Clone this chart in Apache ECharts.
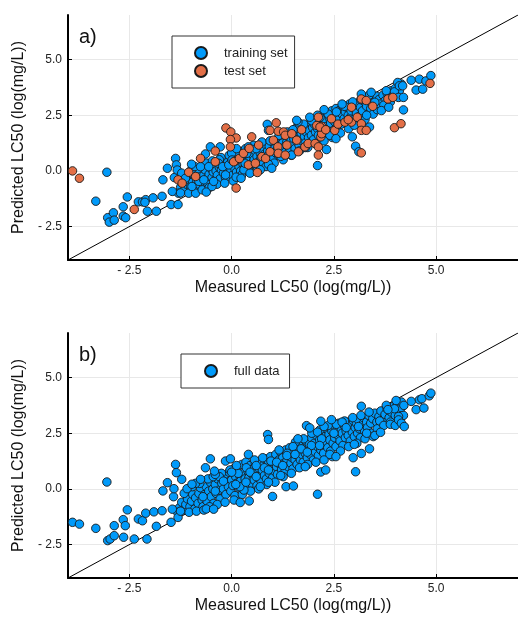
<!DOCTYPE html>
<html>
<head>
<meta charset="utf-8">
<script src="https://cdn.jsdelivr.net/npm/echarts@6/dist/echarts.min.js"></script>
<style>html,body{margin:0;padding:0;background:#fff}#c{width:518px;height:618px}</style>
</head>
<body>
<div id="c"></div>
<script>
// ---- data (measured, predicted) ----
const axisRange = [-4, 7];
const tickValues = [-2.5, 0, 2.5, 5];
const identityLine = [[-4, -4], [7, 7]];

const trainingCore = [[-1.25,-0.75],[-1.2,-0.55],[-1.15,-0.85],[-1.1,-0.6],[-1.05,-0.4],[-1.0,-0.7],[-0.95,-0.5],[-0.92,-0.2],[-0.9,-0.8],[-0.85,-0.45],[-0.8,-0.6],[-0.78,-0.3],[-0.75,-0.1],[-0.7,-0.5],[-0.68,-0.2],[-0.65,0.05],[-0.6,-0.35],[-0.58,-0.6],[-0.55,-0.15],[-0.5,0.1],[-0.48,-0.3],[-0.45,-0.05],[-0.42,0.3],[-0.4,-0.45],[-0.38,0.0],[-0.35,-0.2],[-0.3,0.15],[-0.28,-0.35],[-0.25,0.05],[-0.22,0.35],[-0.2,-0.1],[-0.18,0.2],[-0.15,-0.3],[-0.12,0.1],[-0.1,0.4],[-0.08,-0.05],[-0.05,0.25],[-0.02,0.0],[0.0,0.5],[0.02,-0.2],[0.05,0.3],[0.08,0.1],[0.1,0.65],[0.12,-0.05],[0.15,0.4],[0.18,0.2],[0.2,0.75],[0.22,0.0],[0.25,0.5],[0.28,0.3],[0.3,0.9],[0.32,0.15],[0.35,0.6],[0.38,0.4],[0.4,0.8],[0.42,0.2],[0.45,0.55],[0.48,1.0],[0.5,0.35],[0.52,0.7],[0.55,0.5],[0.58,0.9],[0.6,0.25],[0.62,0.65],[0.65,1.1],[0.68,0.45],[0.7,0.8],[0.72,0.6],[0.75,1.0],[0.78,0.35],[0.8,0.75],[0.82,1.2],[0.85,0.55],[0.88,0.9],[0.9,0.7],[0.92,1.1],[0.95,0.45],[0.98,0.85],[1.0,1.3],[1.02,0.6],[1.05,1.0],[1.08,0.8],[1.1,1.4],[1.12,0.95],[1.15,0.7],[1.18,1.15],[1.2,1.5],[1.22,0.9],[1.25,1.25],[1.28,1.05],[1.3,1.6],[1.32,0.85],[1.35,1.3],[1.38,1.1],[1.4,1.5],[1.42,1.0],[1.45,1.35],[1.48,1.7],[1.5,1.2],[1.52,1.45],[1.55,1.0],[1.58,1.6],[1.6,1.3],[1.62,1.85],[1.65,1.15],[1.68,1.5],[1.7,1.7],[1.72,1.35],[1.75,1.9],[1.78,1.55],[1.8,1.25],[1.82,1.75],[1.85,2.0],[1.88,1.5],[1.9,1.8],[1.92,2.2],[1.95,1.6],[1.98,1.95],[2.0,1.4],[2.02,2.1],[2.05,1.75],[2.08,2.3],[2.1,1.9],[2.12,1.6],[2.15,2.15],[2.18,2.45],[2.2,1.85],[2.22,2.05],[2.25,2.5],[2.28,1.7],[2.3,2.25],[2.32,2.0],[2.35,2.6],[2.38,1.9],[2.4,2.35],[2.42,2.15],[2.45,2.7],[2.48,1.8],[2.5,2.45],[2.52,2.2],[2.55,2.8],[2.58,2.0],[2.6,2.5],[2.62,2.3],[2.65,2.75],[2.68,2.1],[2.7,2.55],[2.72,2.9],[2.75,2.35],[2.78,2.65],[2.8,2.2],[2.82,2.85],[2.85,2.5],[2.88,3.0],[2.9,2.4],[2.92,2.7],[2.95,2.9],[2.98,2.3],[3.0,2.8],[3.05,2.6],[3.1,3.05],[3.12,2.45],[3.15,2.85],[3.2,2.7],[3.25,3.1],[3.3,2.9],[3.35,3.2],[3.4,2.8],[3.45,3.3],[3.5,3.1],[3.55,3.35],[3.6,3.2],[3.7,3.4],[3.75,3.15],[3.8,3.5],[3.85,3.3],[3.9,3.6],[3.95,3.4],[4.0,3.7],[4.05,3.5],[4.1,3.6]];

const trainingSpread = [[-1.4,-0.3],[-1.3,-1.0],[-1.18,-0.25],[-1.05,-1.0],[-0.98,0.05],[-0.88,-1.0],[-0.82,0.1],[-0.72,-0.85],[-0.62,0.35],[-0.55,-0.75],[-0.47,0.45],[-0.36,-0.6],[-0.26,0.6],[-0.17,-0.55],[-0.06,0.7],[0.04,-0.45],[0.14,0.85],[0.24,-0.2],[0.34,1.0],[0.44,-0.05],[0.54,1.15],[0.64,0.1],[0.74,1.3],[0.84,0.2],[0.94,1.35],[1.04,0.35],[1.16,1.6],[1.26,0.5],[1.36,1.75],[1.46,0.7],[1.56,1.9],[1.66,0.9],[1.76,2.1],[1.86,1.05],[1.96,2.25],[2.06,1.2],[2.16,2.4],[2.26,1.35],[2.36,2.55],[2.46,1.5],[2.56,2.65],[2.66,1.7],[2.76,2.9],[2.86,1.9],[2.96,3.1],[3.06,2.1],[3.16,3.2],[3.26,2.3],[3.36,3.4],[3.46,2.55],[3.56,2.75],[3.62,3.0],[3.72,2.95],[3.78,3.6],[3.88,3.1],[3.98,3.55],[4.08,3.3],[4.15,3.9],[-0.3,0.5],[0.0,0.8],[0.3,0.05],[0.6,1.0],[0.9,0.3],[1.2,0.65],[1.5,1.85],[1.8,1.05],[2.1,2.5],[2.4,1.6],[2.7,3.0],[3.0,2.05],[-0.9,0.2],[-0.62,-0.95],[0.12,1.0],[0.7,0.05],[1.62,2.2],[2.26,2.75],[2.55,1.45],[3.3,2.5]];

const trainingTails = [[-3.05,-0.06],[-3.32,-1.36],[-3.03,-2.10],[-2.99,-2.30],[-2.89,-1.88],[-2.87,-2.21],[-2.65,-1.61],[-2.65,-2.03],[-2.59,-2.10],[-2.55,-1.17],[-2.28,-1.39],[-2.18,-1.39],[-2.10,-1.29],[-2.12,-1.41],[-2.06,-1.81],[-1.92,-1.21],[-1.84,-1.81],[-1.70,-1.14],[-1.68,-0.40],[-1.57,0.12],[-1.48,-1.51],[-1.45,-0.92],[-1.37,0.56],[-1.35,0.27],[-1.31,-1.51],[-1.33,0.04],[-1.25,-0.99],[-1.22,-0.10],[-1.13,-0.33],[-0.98,0.30],[-0.97,-0.70],[-0.80,-0.47],[-0.76,0.19],[-0.68,-0.40],[-0.64,0.76],[-0.56,0.19],[-0.52,1.08],[-0.48,-0.70],[-0.44,-0.47],[-0.32,0.34],[-0.28,1.08],[-0.22,0.19],[-0.15,-0.18],[-0.07,0.27],[0.01,0.49],[0.11,-0.28],[0.23,-0.33],[0.33,0.34],[0.37,0.79],[0.41,1.08],[0.45,-0.10],[0.87,2.09],[0.90,1.82],[0.98,0.12],[1.47,0.71],[1.59,2.27],[1.91,2.41],[2.10,0.24],[2.32,0.96],[2.95,1.53],[3.03,1.11],[3.11,0.86],[3.17,3.45],[3.37,1.97],[3.41,3.53],[3.50,3.08],[3.66,2.71],[3.84,2.86],[4.06,3.97],[4.10,3.82],[4.18,3.82],[4.20,3.30],[4.20,2.74],[4.39,4.07],[4.51,3.63],[4.59,4.12],[4.67,3.67],[4.75,4.04],[4.87,4.28]];

const testSet = [[-3.89,0.0],[-3.72,-0.33],[-2.38,-1.73],[-1.31,-0.4],[-1.21,-0.55],[-1.05,-0.06],[-0.88,-0.25],[-0.76,0.56],[-0.4,0.89],[-0.4,0.41],[-0.14,1.93],[-0.02,1.75],[0.11,1.48],[-0.03,1.41],[-0.03,1.08],[0.11,-0.77],[0.09,0.44],[0.05,0.41],[0.19,0.56],[0.29,0.79],[0.43,1.01],[0.41,0.27],[0.49,1.53],[0.58,0.34],[0.63,-0.07],[0.66,1.16],[0.74,0.64],[0.83,0.56],[0.94,0.86],[0.94,1.82],[1.02,1.38],[1.09,2.16],[1.14,1.78],[1.13,1.08],[1.14,0.79],[1.27,1.75],[1.31,0.71],[1.31,1.6],[1.35,1.16],[1.47,1.67],[1.59,1.38],[1.63,0.86],[1.71,1.85],[1.79,1.08],[1.87,1.23],[2.04,1.23],[2.08,2.04],[2.12,1.08],[2.12,0.71],[2.18,1.53],[2.2,1.67],[2.2,2.0],[2.12,2.41],[2.16,1.97],[2.3,1.85],[2.44,2.34],[2.52,1.82],[2.6,2.1],[2.77,2.19],[2.93,2.19],[2.85,2.3],[2.93,2.86],[3.07,2.41],[3.17,2.12],[3.17,1.82],[3.17,0.81],[3.17,3.23],[3.29,1.82],[3.29,3.16],[3.45,2.9],[3.82,3.23],[3.94,3.30],[3.98,1.94],[4.14,2.12],[4.85,3.93]];

const fullDataCore = [[-1.28,-0.85],[-1.22,-0.6],[-1.18,-0.95],[-1.12,-0.7],[-1.08,-0.45],[-1.02,-0.8],[-0.98,-0.55],[-0.95,-0.25],[-0.9,-0.9],[-0.88,-0.4],[-0.82,-0.65],[-0.8,-0.2],[-0.76,0.05],[-0.72,-0.5],[-0.7,-0.8],[-0.66,-0.25],[-0.62,0.1],[-0.6,-0.55],[-0.56,-0.1],[-0.52,0.3],[-0.5,-0.35],[-0.46,0.0],[-0.44,-0.65],[-0.4,0.2],[-0.38,-0.2],[-0.34,0.45],[-0.3,-0.05],[-0.28,-0.45],[-0.24,0.25],[-0.2,0.0],[-0.18,0.6],[-0.14,-0.25],[-0.12,0.3],[-0.08,0.1],[-0.06,0.75],[-0.02,-0.1],[0.0,0.4],[0.03,0.15],[0.05,0.9],[0.08,-0.3],[0.1,0.55],[0.12,0.25],[0.15,1.0],[0.18,0.05],[0.2,0.6],[0.22,0.35],[0.25,1.1],[0.28,0.15],[0.3,0.7],[0.33,0.45],[0.35,1.2],[0.38,0.0],[0.4,0.8],[0.42,0.5],[0.45,1.05],[0.48,0.25],[0.5,0.65],[0.52,0.9],[0.55,0.4],[0.58,1.15],[0.6,0.75],[0.62,0.15],[0.65,0.95],[0.68,0.55],[0.7,1.25],[0.72,0.35],[0.75,0.85],[0.78,1.05],[0.8,0.6],[0.82,1.35],[0.85,0.45],[0.88,0.95],[0.9,1.15],[0.92,0.7],[0.95,1.45],[0.98,0.9],[1.0,0.5],[1.02,1.2],[1.05,0.8],[1.08,1.55],[1.1,1.0],[1.12,0.65],[1.15,1.3],[1.18,1.1],[1.2,1.65],[1.22,0.85],[1.25,1.4],[1.28,1.15],[1.3,0.75],[1.32,1.75],[1.35,1.25],[1.38,1.0],[1.4,1.5],[1.42,1.85],[1.45,1.15],[1.48,1.4],[1.5,0.9],[1.52,1.65],[1.55,1.3],[1.58,1.95],[1.6,1.1],[1.62,1.5],[1.65,1.75],[1.68,1.3],[1.7,2.05],[1.72,1.55],[1.75,1.2],[1.78,1.85],[1.8,1.6],[1.82,2.15],[1.85,1.4],[1.88,1.75],[1.9,2.0],[1.92,1.55],[1.95,2.3],[1.98,1.8],[2.0,1.3],[2.02,2.05],[2.05,1.65],[2.08,2.4],[2.1,1.9],[2.12,1.5],[2.15,2.2],[2.18,1.75],[2.2,2.55],[2.22,2.0],[2.25,1.6],[2.28,2.35],[2.3,2.1],[2.32,2.7],[2.35,1.85],[2.38,2.45],[2.4,2.2],[2.42,1.7],[2.45,2.6],[2.48,2.05],[2.5,2.85],[2.52,2.3],[2.55,1.9],[2.58,2.65],[2.6,2.4],[2.62,2.95],[2.65,2.15],[2.68,2.7],[2.7,2.5],[2.72,1.95],[2.75,2.85],[2.78,2.3],[2.8,2.6],[2.82,3.0],[2.85,2.4],[2.88,2.75],[2.9,2.15],[2.92,2.9],[2.95,2.55],[2.98,3.05],[3.0,2.35],[3.02,2.75],[3.05,2.95],[3.08,2.5],[3.1,3.1],[3.12,2.7],[3.15,2.3],[3.2,2.9],[3.22,3.2],[3.25,2.6],[3.3,3.0],[3.32,2.75],[3.35,3.3],[3.4,2.95],[3.42,2.5],[3.45,3.15],[3.5,3.4],[3.55,3.0],[3.6,3.25],[3.65,3.5],[3.7,3.1],[3.75,3.35],[3.8,3.6],[3.85,3.2],[3.9,3.45],[3.95,3.7],[4.0,3.3],[4.05,3.8],[4.1,3.5],[4.15,3.65],[4.2,3.3]];

const fullDataSpread = [[-1.42,-0.35],[-1.32,-1.05],[-1.16,-0.2],[-1.04,-1.05],[-0.96,0.1],[-0.86,-1.0],[-0.78,0.25],[-0.68,-0.95],[-0.58,0.45],[-0.54,-0.8],[-0.45,0.55],[-0.35,-0.7],[-0.25,0.7],[-0.16,-0.6],[-0.04,0.85],[0.06,-0.5],[0.16,0.7],[0.26,-0.25],[0.36,0.95],[0.46,-0.1],[0.56,1.3],[0.66,0.0],[0.76,1.4],[0.86,0.2],[0.96,1.25],[1.06,0.3],[1.16,1.75],[1.26,0.55],[1.36,1.6],[1.46,0.7],[1.56,2.1],[1.66,0.95],[1.76,2.25],[1.86,1.1],[1.96,2.5],[2.06,1.2],[2.16,2.65],[2.26,1.3],[2.36,2.85],[2.46,1.45],[2.56,2.9],[2.66,1.7],[2.76,3.05],[2.86,1.9],[2.96,3.2],[3.06,2.05],[3.16,3.3],[3.26,2.25],[3.36,3.45],[3.46,2.35],[3.56,2.7],[3.62,3.05],[3.72,2.85],[3.78,3.75],[3.88,3.0],[3.98,3.6],[4.08,3.25],[4.15,3.9],[-0.3,0.55],[0.0,0.75],[0.3,-0.05],[0.6,1.05],[0.9,0.3],[1.2,0.6],[1.5,1.9],[1.8,1.0],[2.1,2.55],[2.4,1.55],[2.7,3.0],[3.0,2.0],[-0.88,0.25],[-0.62,-0.9],[0.12,1.05],[0.7,0.1],[1.62,2.25],[2.26,2.8],[2.55,1.45],[3.3,2.5],[-0.2,0.35],[0.2,0.1],[0.45,0.75],[0.8,0.95],[1.1,1.2],[1.35,1.5],[1.7,1.8],[1.95,1.95],[2.2,2.25],[2.5,2.5],[2.8,2.75],[3.1,2.8],[-0.7,-0.35],[-0.4,-0.1],[0.1,0.2],[0.35,0.3],[0.6,0.55],[0.9,0.85],[1.25,1.05],[1.55,1.55],[1.85,1.65],[2.15,1.95]];

const fullDataTails = [[-3.89,-1.50],[-3.72,-1.58],[-3.32,-1.77],[-3.05,0.31],[-3.03,-2.32],[-2.97,-2.25],[-2.87,-1.65],[-2.87,-2.10],[-2.65,-1.38],[-2.60,-1.65],[-2.64,-2.17],[-2.55,-0.94],[-2.38,-2.25],[-2.28,-1.35],[-2.18,-1.43],[-2.10,-1.09],[-2.07,-2.25],[-1.90,-1.03],[-1.84,-1.68],[-1.70,-0.98],[-1.68,-0.09],[-1.57,0.28],[-1.48,-1.50],[-1.45,-0.91],[-1.41,0.01],[-1.37,1.10],[-1.35,0.73],[-1.31,-1.28],[-1.22,0.43],[-1.25,-1.0],[-1.09,0.01],[-0.97,0.21],[-0.76,0.43],[-0.64,0.95],[-0.52,1.35],[-0.44,-0.91],[-0.40,0.65],[-0.42,0.8],[-0.15,1.25],[-0.03,1.35],[0.21,-0.61],[0.41,1.55],[0.43,-0.54],[0.88,2.44],[0.90,2.22],[1.00,-0.34],[1.33,0.10],[1.51,0.13],[1.83,2.84],[1.91,2.74],[2.10,-0.24],[2.18,0.76],[2.30,0.85],[2.18,3.04],[2.44,3.11],[2.97,1.40],[3.03,0.77],[3.17,1.59],[3.17,3.71],[3.37,1.80],[3.50,2.40],[3.64,2.54],[3.82,3.56],[3.88,2.9],[4.0,2.85],[4.08,3.1],[4.15,2.95],[4.22,2.8],[4.02,3.97],[4.21,3.75],[4.39,3.93],[4.51,3.56],[4.59,4.00],[4.70,3.63],[4.65,4.05],[4.83,4.18],[4.87,4.30]];

// ---- chart ----
const FONT = '"Liberation Sans", Arial, Helvetica, sans-serif';
const BLUE = '#009AFA', ORANGE = '#E36F47';
const fmt = v => (v < 0 ? '- ' + Math.abs(v).toFixed(1) : v.toFixed(1));

function xAx(gi) {
  return {
    gridIndex: gi, type: 'value', min: axisRange[0], max: axisRange[1],
    name: 'Measured LC50 (log(mg/L))', nameLocation: 'middle', nameGap: 20,
    nameTextStyle: { fontFamily: FONT, fontSize: 16, color: '#111' },
    axisLine: { onZero: false, lineStyle: { color: '#000', width: 2 } },
    axisTick: { show: true, inside: true, length: 4, customValues: tickValues, lineStyle: { color: '#000', width: 1 } },
    axisLabel: { customValues: tickValues, formatter: fmt, margin: 5, fontFamily: FONT, fontSize: 12, color: '#222' },
    splitLine: { show: true, lineStyle: { color: '#e8e8e8', width: 1 } }
  };
}
function yAx(gi) {
  return {
    gridIndex: gi, type: 'value', min: axisRange[0], max: axisRange[1],
    name: 'Predicted LC50 (log(mg/L))', nameLocation: 'middle', nameGap: 38, nameRotate: 90,
    nameTextStyle: { fontFamily: FONT, fontSize: 16, color: '#111' },
    axisLine: { onZero: false, lineStyle: { color: '#000', width: 2 } },
    axisTick: { show: true, inside: true, length: 4, customValues: tickValues, lineStyle: { color: '#000', width: 1 } },
    axisLabel: { customValues: tickValues, formatter: fmt, margin: 6, fontFamily: FONT, fontSize: 12, color: '#222' },
    splitLine: { show: true, lineStyle: { color: '#e8e8e8', width: 1 } }
  };
}
function scatter(name, data, color, xi) {
  return {
    name, type: 'scatter', xAxisIndex: xi, yAxisIndex: xi, data,
    symbol: 'circle', symbolSize: 8.5, z: 3,
    itemStyle: { color, borderColor: '#1a1a1a', borderWidth: 0.9, opacity: 1 }
  };
}
function diag(xi) {
  return {
    type: 'line', xAxisIndex: xi, yAxisIndex: xi, data: identityLine,
    showSymbol: false, symbol: 'none', silent: true, z: 2,
    lineStyle: { color: '#000', width: 1 }
  };
}

const chart = echarts.init(document.getElementById('c'), null, { renderer: 'canvas' });
chart.setOption({
  animation: false,
  backgroundColor: '#fff',
  grid: [
    { left: 68, top: 15, width: 450, height: 245 },
    { left: 68, top: 333, width: 450, height: 245 }
  ],
  xAxis: [xAx(0), xAx(1)],
  yAxis: [yAx(0), yAx(1)],
  legend: [
    {
      data: ['training set', 'test set'], orient: 'vertical', left: 172, top: 36,
      padding: [10, 7, 10, 22], itemGap: 4, itemWidth: 12, itemHeight: 12,
      borderColor: '#333', borderWidth: 1, backgroundColor: '#fff',
      textStyle: { fontFamily: FONT, fontSize: 13, color: '#222', padding: [0, 0, 0, 12] }
    },
    {
      data: ['full data'], orient: 'vertical', left: 181, top: 354,
      padding: [10, 10, 10, 23], itemWidth: 12, itemHeight: 12,
      borderColor: '#333', borderWidth: 1, backgroundColor: '#fff',
      textStyle: { fontFamily: FONT, fontSize: 13, color: '#222', padding: [0, 0, 0, 12] }
    }
  ],
  graphic: [
    { type: 'text', left: 79, top: 27, style: { text: 'a)', font: '20px ' + FONT, fill: '#111' } },
    { type: 'text', left: 79, top: 345, style: { text: 'b)', font: '20px ' + FONT, fill: '#111' } }
  ],
  series: [
    diag(0),
    scatter('training set', trainingCore.concat(trainingSpread, trainingTails), BLUE, 0),
    scatter('test set', testSet, ORANGE, 0),
    diag(1),
    scatter('full data', fullDataCore.concat(fullDataSpread, fullDataTails), BLUE, 1)
  ]
});
</script>
</body>
</html>
